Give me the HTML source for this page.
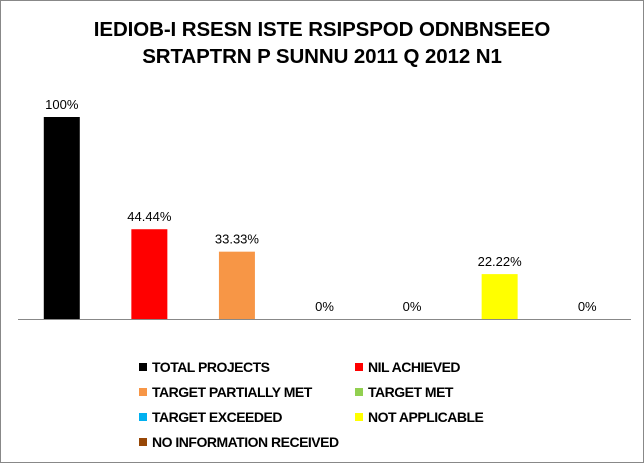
<!DOCTYPE html>
<html><head><meta charset="utf-8"><style>
body{margin:0;background:#fff}
#c{position:relative;width:642px;height:461px;border:1px solid #888;overflow:hidden;font-family:"Liberation Sans",Arial,sans-serif}
.t{position:absolute;left:0;width:642px;text-align:center;font-weight:bold;font-size:20.5px;letter-spacing:-0.1px}
.lg{position:absolute;font-weight:bold;font-size:14px;letter-spacing:-0.5px;line-height:14px}
.lg i{position:absolute;left:-13px;top:3px;width:8px;height:8px}
</style></head><body>
<div id="c">
<div class="t" style="top:17px">IEDIOB-I RSESN ISTE RSIPSPOD ODNBNSEEO</div>
<div class="t" style="top:44px">SRTAPTRN P SUNNU 2011 Q 2012 N1</div>
<svg id="s" width="642" height="461" style="position:absolute;left:0;top:0"></svg>
<div id="leg"></div>
</div>
<script>
const categories=["TOTAL PROJECTS","NIL ACHIEVED","TARGET PARTIALLY MET","TARGET MET","TARGET EXCEEDED","NOT APPLICABLE","NO INFORMATION RECEIVED"];
const values=[100,44.44,33.33,0,0,22.22,0];
const labels=["100%","44.44%","33.33%","0%","0%","22.22%","0%"];
const colors=["#000000","#ff0000","#f79646","#92d050","#00b0f0","#ffff00","#974706"];
const ns="http://www.w3.org/2000/svg",svgEl=document.getElementById('s');
const x0=17,x1=630,base=318,yTop=116,maxV=100;
const bw=(x1-x0)/categories.length;
const yScale=v=>base-(v/maxV)*(base-yTop);
categories.forEach((c,i)=>{
 const cx=x0+bw*(i+0.5);
 if(values[i]>0){const r=document.createElementNS(ns,'rect');
 r.setAttribute('x',cx-18);r.setAttribute('y',yScale(values[i]));r.setAttribute('width',36);r.setAttribute('height',base-yScale(values[i]));r.setAttribute('fill',colors[i]);
 
 
 svgEl.appendChild(r);}
 const t=document.createElementNS(ns,'text');
 t.setAttribute('x',cx);t.setAttribute('y',yScale(values[i])-8);t.setAttribute('text-anchor','middle');t.setAttribute('font-size','13');t.setAttribute('font-family','Liberation Sans, sans-serif');t.textContent=labels[i];
 
 
 svgEl.appendChild(t);
});
const ax=document.createElementNS(ns,'line');
ax.setAttribute('x1',x0);ax.setAttribute('x2',x1);ax.setAttribute('y1',base+0.5);ax.setAttribute('y2',base+0.5);ax.setAttribute('stroke','#888');


svgEl.appendChild(ax);
const leg=document.getElementById('leg');
categories.forEach((c,i)=>{
 const d=document.createElement('div');d.className='lg';
 d.style.left=(i%2?367:151)+'px';d.style.top=(359+Math.floor(i/2)*25)+'px';
 d.innerHTML='<i style="background:'+colors[i]+'"></i>'+c;
 
 
 leg.appendChild(d);
});
</script>
</body></html>
